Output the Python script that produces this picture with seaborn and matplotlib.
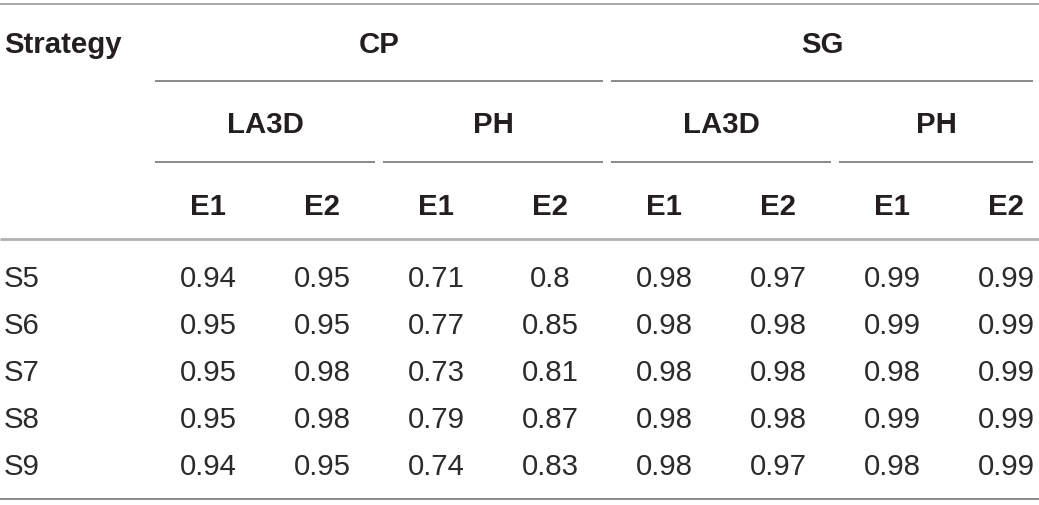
import matplotlib
matplotlib.use("Agg")
import matplotlib.pyplot as plt
import seaborn as sns
import pandas as pd

sns.set_theme(style="white")
plt.rcParams['font.family'] = ['Liberation Sans', 'DejaVu Sans']

# table content
strategies = ["S5", "S6", "S7", "S8", "S9"]
datasets = ["CP", "SG"]
methods = ["LA3D", "PH"]
metrics = ["E1", "E2"]

values = {
    "S5": [0.94, 0.95, 0.71, 0.8, 0.98, 0.97, 0.99, 0.99],
    "S6": [0.95, 0.95, 0.77, 0.85, 0.98, 0.98, 0.99, 0.99],
    "S7": [0.95, 0.98, 0.73, 0.81, 0.98, 0.98, 0.98, 0.99],
    "S8": [0.95, 0.98, 0.79, 0.87, 0.98, 0.98, 0.99, 0.99],
    "S9": [0.94, 0.95, 0.74, 0.83, 0.98, 0.97, 0.98, 0.99],
}

cols = pd.MultiIndex.from_product([datasets, methods, metrics])
df = pd.DataFrame([values[s] for s in strategies], index=strategies, columns=cols)

# layout (pixel units)
W, H = 1039, 506
col_x0, col_w = 208, 114
stub_x = 4
head_base = [53, 133, 215]
row_base0, row_h = 287, 47
fs = 21.2
txt = "#231f20"
body_txt = "#2b2b2b"
gap = 4

fig = plt.figure(figsize=(W / 100, H / 100), dpi=100)
ax = fig.add_axes([0, 0, 1, 1])
ax.set_xlim(0, W)
ax.set_ylim(H, 0)
ax.axis("off")

def cx(i):
    return col_x0 + col_w * i

# rules
ax.hlines(5, 0, W, color="#9a9a9a", lw=1.2)
ax.hlines(240, 0, W, color="#b0b0b0", lw=2.0)
ax.hlines(500, 0, W, color="#8a8a8a", lw=1.4)

right_edge = 1033

# header level 1: datasets
span = len(methods) * len(metrics)
for d, name in enumerate(datasets):
    i0, i1 = d * span, (d + 1) * span - 1
    x0 = cx(i0) - col_w / 2 + gap
    x1 = min(cx(i1) + col_w / 2 - gap, right_edge)
    ax.hlines(82, x0, x1, color="#8a8a8a", lw=1.4)
    ax.text((x0 + x1) / 2, head_base[0], name, ha="center", va="baseline",
            fontsize=fs, fontweight="bold", color=txt)

# header level 2: methods
for m in range(len(datasets) * len(methods)):
    i0, i1 = m * len(metrics), (m + 1) * len(metrics) - 1
    x0 = cx(i0) - col_w / 2 + gap
    x1 = min(cx(i1) + col_w / 2 - gap, right_edge)
    ax.hlines(163, x0, x1, color="#8a8a8a", lw=1.4)
    ax.text((x0 + x1) / 2, head_base[1], methods[m % len(methods)], ha="center",
            va="baseline", fontsize=fs, fontweight="bold", color=txt)

# header level 3: metrics
for i, (_, _, e) in enumerate(df.columns):
    ax.text(cx(i), head_base[2], e, ha="center", va="baseline",
            fontsize=fs, fontweight="bold", color=txt)

ax.text(stub_x, head_base[0], "Strategy", ha="left", va="baseline",
        fontsize=fs, fontweight="bold", color=txt)

# body
for r, s in enumerate(df.index):
    y = row_base0 + row_h * r
    ax.text(stub_x, y, s, ha="left", va="baseline", fontsize=fs, color=body_txt)
    for i, v in enumerate(df.loc[s]):
        ax.text(cx(i), y, f"{v:g}", ha="center", va="baseline",
                fontsize=fs, color=body_txt)

fig.savefig("out.png", dpi=100)
